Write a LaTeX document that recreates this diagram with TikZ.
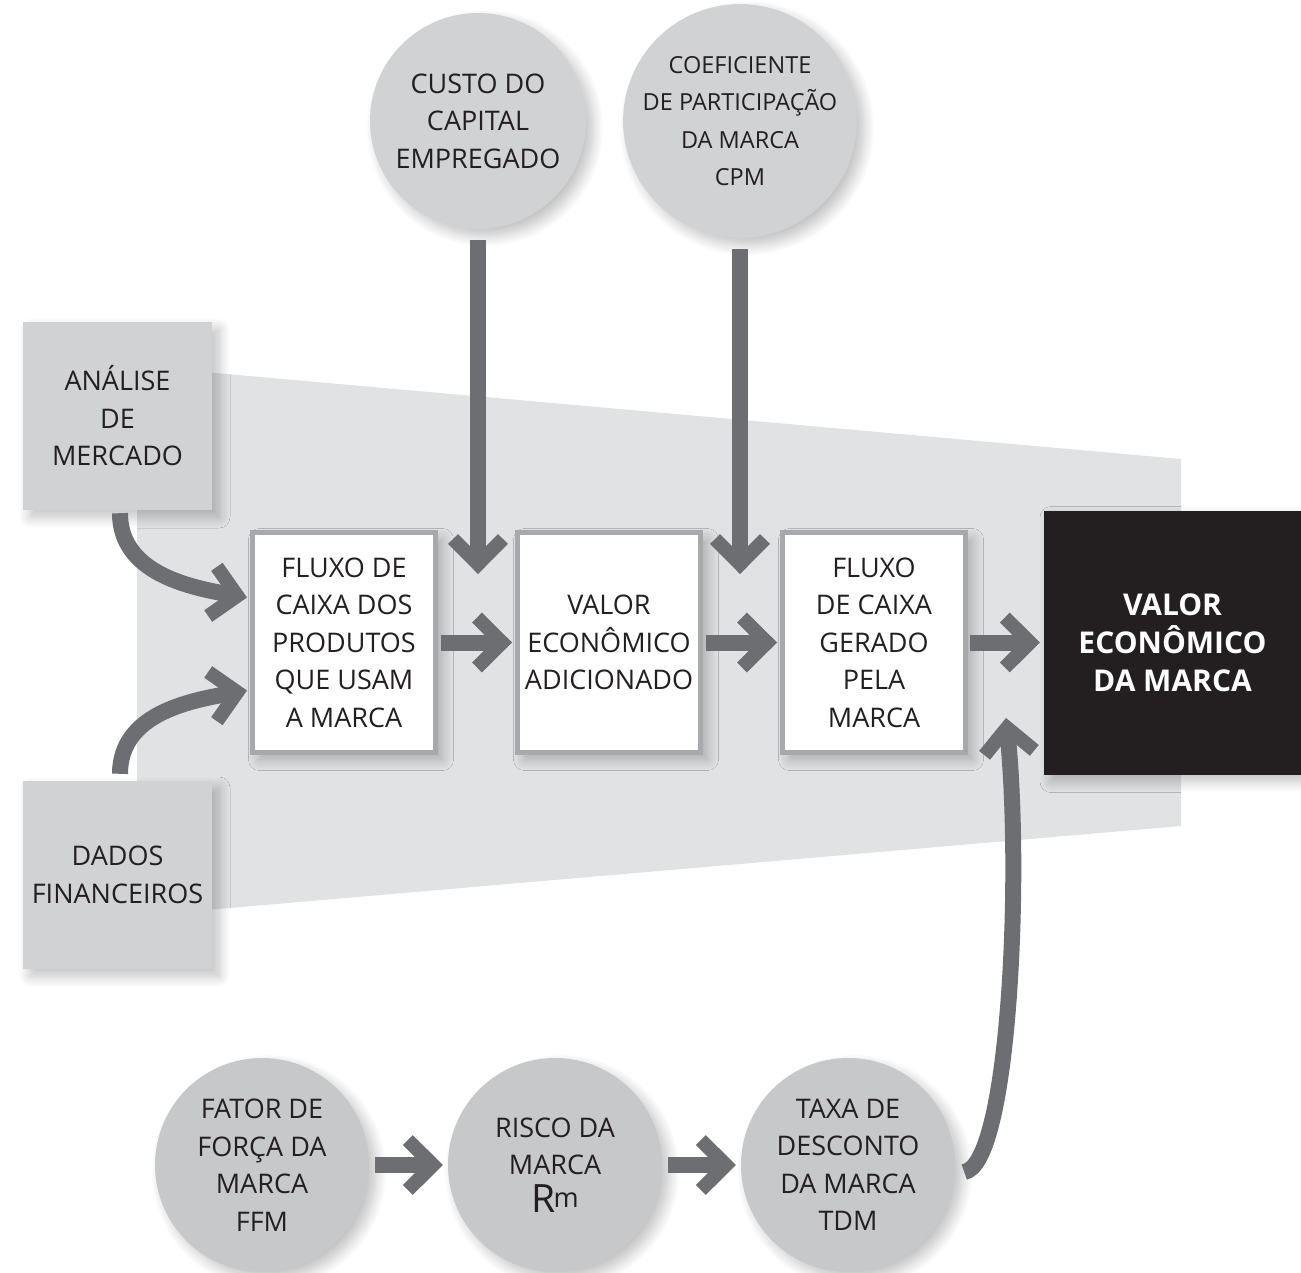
\documentclass[tikz,border=0pt]{standalone}
\usepackage{fontspec}
\setmainfont{Open Sans}
\usepackage{tikz}
\usetikzlibrary{positioning, arrows.meta, shadows.blur}
\definecolor{PanelGray}{RGB}{225,226,228}
\definecolor{BoxGray}{RGB}{209,210,212}
\definecolor{DiscGray}{RGB}{199,200,202}
\definecolor{FrameGray}{RGB}{167,169,172}
\definecolor{ArrowGray}{RGB}{109,110,113}
\definecolor{InkBlack}{RGB}{35,31,32}

% thick open chevron head
\pgfdeclarearrow{
  name = Chevron,
  setup code = {
    \pgfarrowssettipend{0pt}
    \pgfarrowssetlineend{-18pt}
    \pgfarrowssetbackend{-40pt}
  },
  drawing code = {
    \pgfsetlinewidth{14pt}
    \pgfsetmiterjoin
    \pgfsetbuttcap
    \pgfpathmoveto{\pgfqpoint{-35pt}{25pt}}
    \pgfpathlineto{\pgfqpoint{-9.9pt}{0pt}}
    \pgfpathlineto{\pgfqpoint{-35pt}{-25pt}}
    \pgfusepathqstroke
  }
}

\begin{document}
\begin{tikzpicture}[x=1pt, y=1pt,
    txt/.style={align=center, text=InkBlack, font=\fontsize{27}{37.5}\selectfont},
    softshadow/.style={blur shadow={shadow xshift=7pt, shadow yshift=-7pt,
                       shadow blur radius=11pt, shadow blur steps=14, shadow opacity=25}},
    inbox/.style={txt, rectangle, fill=BoxGray, minimum width=189pt,
                  minimum height=188pt, inner sep=0pt, softshadow},
    flow/.style={txt, rectangle, fill=white, draw=FrameGray, line width=5pt,
                 minimum width=183pt, minimum height=220pt, inner sep=0pt, softshadow},
    disc/.style={txt, circle, fill=BoxGray, minimum size=216pt, inner sep=0pt, softshadow},
    result/.style={rectangle, fill=InkBlack, text=white, align=center,
                   font=\fontsize{30}{38}\selectfont\bfseries,
                   minimum width=257pt, minimum height=264pt, softshadow},
    arr/.style={-{Chevron}, draw=ArrowGray, line width=16pt}
  ]
  \useasboundingbox (0,0) rectangle (1301,-1273);

  % background panel
  \fill[PanelGray] (137,-366) -- (1181,-459) -- (1181,-826) -- (137,-916) -- cycle;

  \node[inbox] (ana) at (117.5,-416) {ANÁLISE\\DE\\MERCADO};
  \node[inbox] (dados) at (117.5,-875) {DADOS\\FINANCEIROS};

  \node[flow] (fcp) at (344,-642.5) {FLUXO DE\\CAIXA DOS\\PRODUTOS\\QUE USAM\\A MARCA};
  \node[flow] (vea) at (609,-642.5) {VALOR\\ECONÔMICO\\ADICIONADO};
  \node[flow] (fcm) at (874,-642.5) {FLUXO\\DE CAIXA\\GERADO\\PELA\\MARCA};
  \node[result] (vem) at (1172.5,-642.5) {VALOR\\ECONÔMICO\\DA MARCA};

  \node[disc] (custo) at (478,-121) {CUSTO DO\\CAPITAL\\EMPREGADO};
  \node[disc, font=\fontsize{23.5}{37.5}\selectfont] (cpm) at (740,-121)
        {COEFICIENTE\\DE PARTICIPAÇÃO\\DA MARCA\\CPM};

  \node[disc, fill=DiscGray, minimum size=214pt] (ffm) at (262,-1165)
        {FATOR DE\\FORÇA DA\\MARCA\\FFM};
  \node[disc, fill=DiscGray, minimum size=214pt] (rm) at (555,-1165)
        {RISCO DA\\MARCA\\{\fontsize{39}{39}\selectfont R}\kern-2pt\raisebox{5pt}{m}};
  \node[disc, fill=DiscGray, minimum size=214pt] (tdm) at (848,-1165)
        {TAXA DE\\DESCONTO\\DA MARCA\\TDM};

  \coordinate (custotip) at (478,-574);
  \coordinate (cpmtip) at (740,-574);
  \coordinate (tdmtip) at (1006,-718);

  \draw[arr] ([yshift=-11pt]custo.south) -- (custotip);
  \draw[arr] ([yshift=-11pt]cpm.south) -- (cpmtip);
  \draw[arr] ([shift={(2.5pt,-3pt)}]ana.south) to[out=-90, in=170]
        ([shift={(-3pt,45pt)}]fcp.west);
  \draw[arr] ([shift={(2.5pt,7pt)}]dados.north) to[out=90, in=190]
        ([shift={(-3pt,-48pt)}]fcp.west);
  \draw[arr, shorten <=3pt, shorten >=3pt] (fcp) -- (vea);
  \draw[arr, shorten <=3pt, shorten >=3pt] (vea) -- (fcm);
  \draw[arr, shorten <=2pt, shorten >=4pt] (fcm) -- (vem);
  \draw[arr, shorten <=6pt, shorten >=5pt] (ffm) -- (rm);
  \draw[arr, shorten <=6pt, shorten >=5pt] (rm) -- (tdm);
  \draw[arr] ([shift={(9pt,-7pt)}]tdm.east) .. controls +(45pt,7pt) and +(16pt,-162pt) .. (tdmtip);
\end{tikzpicture}
\end{document}
